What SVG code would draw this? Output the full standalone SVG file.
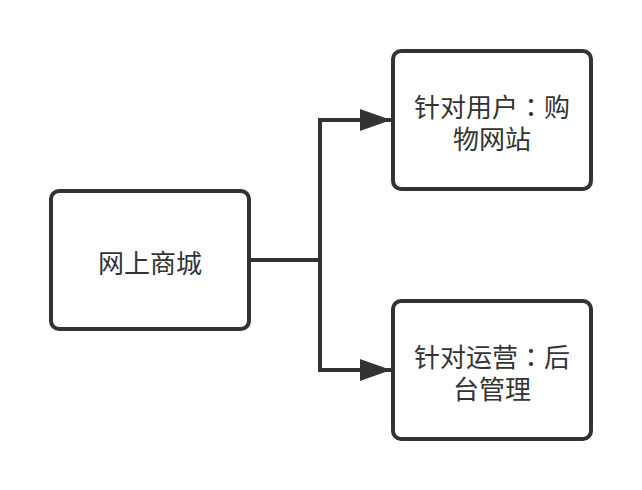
<svg xmlns="http://www.w3.org/2000/svg" width="642" height="490" viewBox="0 0 642 490">
<defs>
<style>
.node{fill:#ffffff;stroke:#333333;stroke-width:4}
.lbl{font-family:"Noto Sans CJK SC","Liberation Sans",sans-serif;font-size:26px;fill:#333333;text-anchor:middle}
.col{font-family:"Noto Sans CJK TC","Noto Sans CJK SC",sans-serif}
.edge{fill:none;stroke:#333333;stroke-width:4}
</style>
<marker id="arr" markerUnits="userSpaceOnUse" markerWidth="32" markerHeight="22" refX="31" refY="11" orient="auto">
<path d="M0,0 L31,11 L0,22 Z" fill="#333333"/>
</marker>
</defs>
<rect width="642" height="490" fill="#ffffff"/>
<g id="connectors">
<path class="edge" d="M251,260 H320 V120 H391" marker-end="url(#arr)"/>
<path class="edge" d="M320,260 V370 H391" marker-end="url(#arr)"/>
</g>
<g id="node-mall">
<rect class="node" x="51" y="191" width="198" height="138" rx="8"/>
<text class="lbl" x="150" y="273">网上商城</text>
</g>
<g id="node-user">
<rect class="node" x="393" y="51" width="198" height="138" rx="8"/>
<text class="lbl" x="492" y="117">针对用户<tspan class="col">：</tspan>购</text>
<text class="lbl" x="492" y="149">物网站</text>
</g>
<g id="node-ops">
<rect class="node" x="393" y="301" width="198" height="138" rx="8"/>
<text class="lbl" x="492" y="367">针对运营<tspan class="col">：</tspan>后</text>
<text class="lbl" x="492" y="399">台管理</text>
</g>
</svg>
